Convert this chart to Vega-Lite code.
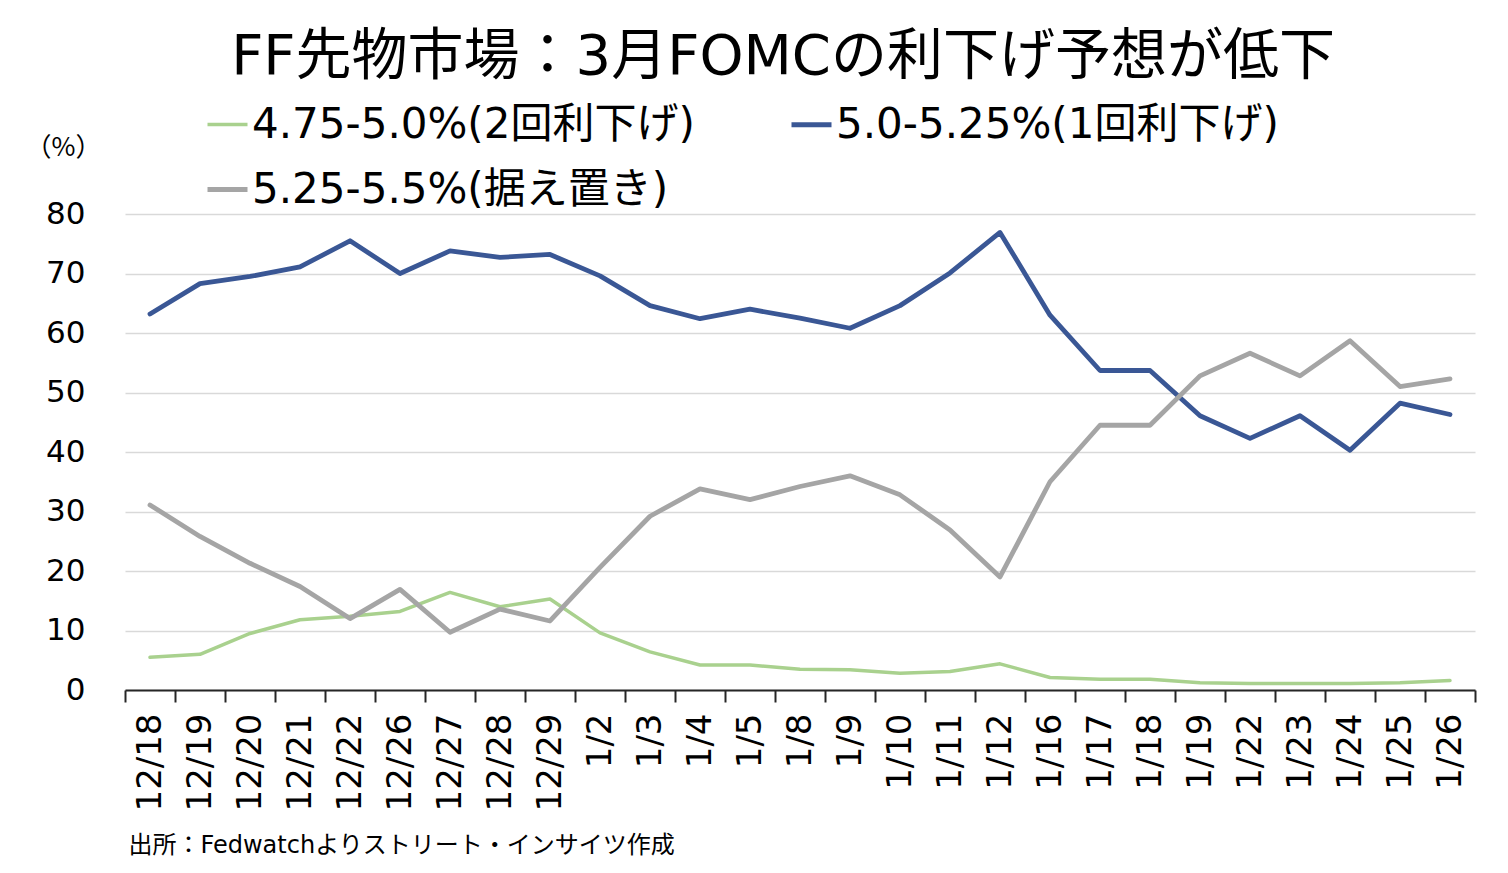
{
  "$schema": "https://vega.github.io/schema/vega-lite/v6.json",
  "autosize": "none",
  "width": 1350,
  "height": 476,
  "padding": {"left": 125, "top": 214, "right": 33, "bottom": 183},
  "background": "white",
  "title": {
    "text": "FF先物市場：3月FOMCの利下げ予想が低下",
    "anchor": "middle",
    "dx": -17,
    "offset": 16,
    "fontSize": 56,
    "font": "DejaVu Sans, Noto Sans CJK JP",
    "fontWeight": "normal",
    "color": "#000000"
  },
  "config": {
    "font": "DejaVu Sans, Noto Sans CJK JP",
    "view": {"stroke": null},
    "legend": {
      "orient": "none",
      "legendX": 80,
      "legendY": -112,
      "direction": "horizontal",
      "columns": 2,
      "columnPadding": 86,
      "rowPadding": 21,
      "labelFontSize": 42,
      "labelColor": "#000000",
      "labelFont": "DejaVu Sans, Noto Sans CJK JP",
      "labelLimit": 0,
      "labelOffset": 2,
      "symbolType": "stroke",
      "symbolSize": 1600,
      "symbolStrokeWidth": 5
    }
  },
  "data": {
    "values": [
      {"d": "12/18", "s": "4.75-5.0%(2回利下げ)", "v": 5.5},
      {"d": "12/19", "s": "4.75-5.0%(2回利下げ)", "v": 6.0},
      {"d": "12/20", "s": "4.75-5.0%(2回利下げ)", "v": 9.5},
      {"d": "12/21", "s": "4.75-5.0%(2回利下げ)", "v": 11.8},
      {"d": "12/22", "s": "4.75-5.0%(2回利下げ)", "v": 12.4},
      {"d": "12/26", "s": "4.75-5.0%(2回利下げ)", "v": 13.2},
      {"d": "12/27", "s": "4.75-5.0%(2回利下げ)", "v": 16.4},
      {"d": "12/28", "s": "4.75-5.0%(2回利下げ)", "v": 14.0},
      {"d": "12/29", "s": "4.75-5.0%(2回利下げ)", "v": 15.3},
      {"d": "1/2", "s": "4.75-5.0%(2回利下げ)", "v": 9.6},
      {"d": "1/3", "s": "4.75-5.0%(2回利下げ)", "v": 6.4},
      {"d": "1/4", "s": "4.75-5.0%(2回利下げ)", "v": 4.2},
      {"d": "1/5", "s": "4.75-5.0%(2回利下げ)", "v": 4.2},
      {"d": "1/8", "s": "4.75-5.0%(2回利下げ)", "v": 3.5},
      {"d": "1/9", "s": "4.75-5.0%(2回利下げ)", "v": 3.4},
      {"d": "1/10", "s": "4.75-5.0%(2回利下げ)", "v": 2.8},
      {"d": "1/11", "s": "4.75-5.0%(2回利下げ)", "v": 3.1},
      {"d": "1/12", "s": "4.75-5.0%(2回利下げ)", "v": 4.4},
      {"d": "1/16", "s": "4.75-5.0%(2回利下げ)", "v": 2.1},
      {"d": "1/17", "s": "4.75-5.0%(2回利下げ)", "v": 1.8},
      {"d": "1/18", "s": "4.75-5.0%(2回利下げ)", "v": 1.8},
      {"d": "1/19", "s": "4.75-5.0%(2回利下げ)", "v": 1.2},
      {"d": "1/22", "s": "4.75-5.0%(2回利下げ)", "v": 1.1},
      {"d": "1/23", "s": "4.75-5.0%(2回利下げ)", "v": 1.1},
      {"d": "1/24", "s": "4.75-5.0%(2回利下げ)", "v": 1.1},
      {"d": "1/25", "s": "4.75-5.0%(2回利下げ)", "v": 1.2},
      {"d": "1/26", "s": "4.75-5.0%(2回利下げ)", "v": 1.6},
      {"d": "12/18", "s": "5.0-5.25%(1回利下げ)", "v": 63.2},
      {"d": "12/19", "s": "5.0-5.25%(1回利下げ)", "v": 68.3},
      {"d": "12/20", "s": "5.0-5.25%(1回利下げ)", "v": 69.5},
      {"d": "12/21", "s": "5.0-5.25%(1回利下げ)", "v": 71.1},
      {"d": "12/22", "s": "5.0-5.25%(1回利下げ)", "v": 75.5},
      {"d": "12/26", "s": "5.0-5.25%(1回利下げ)", "v": 70.0},
      {"d": "12/27", "s": "5.0-5.25%(1回利下げ)", "v": 73.8},
      {"d": "12/28", "s": "5.0-5.25%(1回利下げ)", "v": 72.7},
      {"d": "12/29", "s": "5.0-5.25%(1回利下げ)", "v": 73.2},
      {"d": "1/2", "s": "5.0-5.25%(1回利下げ)", "v": 69.6},
      {"d": "1/3", "s": "5.0-5.25%(1回利下げ)", "v": 64.6},
      {"d": "1/4", "s": "5.0-5.25%(1回利下げ)", "v": 62.4},
      {"d": "1/5", "s": "5.0-5.25%(1回利下げ)", "v": 64.0},
      {"d": "1/8", "s": "5.0-5.25%(1回利下げ)", "v": 62.5},
      {"d": "1/9", "s": "5.0-5.25%(1回利下げ)", "v": 60.8},
      {"d": "1/10", "s": "5.0-5.25%(1回利下げ)", "v": 64.6},
      {"d": "1/11", "s": "5.0-5.25%(1回利下げ)", "v": 70.1},
      {"d": "1/12", "s": "5.0-5.25%(1回利下げ)", "v": 76.9},
      {"d": "1/16", "s": "5.0-5.25%(1回利下げ)", "v": 63.0},
      {"d": "1/17", "s": "5.0-5.25%(1回利下げ)", "v": 53.7},
      {"d": "1/18", "s": "5.0-5.25%(1回利下げ)", "v": 53.7},
      {"d": "1/19", "s": "5.0-5.25%(1回利下げ)", "v": 46.1},
      {"d": "1/22", "s": "5.0-5.25%(1回利下げ)", "v": 42.3},
      {"d": "1/23", "s": "5.0-5.25%(1回利下げ)", "v": 46.1},
      {"d": "1/24", "s": "5.0-5.25%(1回利下げ)", "v": 40.3},
      {"d": "1/25", "s": "5.0-5.25%(1回利下げ)", "v": 48.2},
      {"d": "1/26", "s": "5.0-5.25%(1回利下げ)", "v": 46.3},
      {"d": "12/18", "s": "5.25-5.5%(据え置き)", "v": 31.1},
      {"d": "12/19", "s": "5.25-5.5%(据え置き)", "v": 25.8},
      {"d": "12/20", "s": "5.25-5.5%(据え置き)", "v": 21.3},
      {"d": "12/21", "s": "5.25-5.5%(据え置き)", "v": 17.4},
      {"d": "12/22", "s": "5.25-5.5%(据え置き)", "v": 12.0},
      {"d": "12/26", "s": "5.25-5.5%(据え置き)", "v": 16.9},
      {"d": "12/27", "s": "5.25-5.5%(据え置き)", "v": 9.7},
      {"d": "12/28", "s": "5.25-5.5%(据え置き)", "v": 13.6},
      {"d": "12/29", "s": "5.25-5.5%(据え置き)", "v": 11.6},
      {"d": "1/2", "s": "5.25-5.5%(据え置き)", "v": 20.6},
      {"d": "1/3", "s": "5.25-5.5%(据え置き)", "v": 29.2},
      {"d": "1/4", "s": "5.25-5.5%(据え置き)", "v": 33.8},
      {"d": "1/5", "s": "5.25-5.5%(据え置き)", "v": 32.0},
      {"d": "1/8", "s": "5.25-5.5%(据え置き)", "v": 34.2},
      {"d": "1/9", "s": "5.25-5.5%(据え置き)", "v": 36.0},
      {"d": "1/10", "s": "5.25-5.5%(据え置き)", "v": 32.8},
      {"d": "1/11", "s": "5.25-5.5%(据え置き)", "v": 26.9},
      {"d": "1/12", "s": "5.25-5.5%(据え置き)", "v": 19.0},
      {"d": "1/16", "s": "5.25-5.5%(据え置き)", "v": 35.0},
      {"d": "1/17", "s": "5.25-5.5%(据え置き)", "v": 44.5},
      {"d": "1/18", "s": "5.25-5.5%(据え置き)", "v": 44.5},
      {"d": "1/19", "s": "5.25-5.5%(据え置き)", "v": 52.8},
      {"d": "1/22", "s": "5.25-5.5%(据え置き)", "v": 56.6},
      {"d": "1/23", "s": "5.25-5.5%(据え置き)", "v": 52.8},
      {"d": "1/24", "s": "5.25-5.5%(据え置き)", "v": 58.7},
      {"d": "1/25", "s": "5.25-5.5%(据え置き)", "v": 51.0},
      {"d": "1/26", "s": "5.25-5.5%(据え置き)", "v": 52.3}
    ]
  },
  "mark": {"type": "line", "strokeJoin": "round", "strokeCap": "round"},
  "encoding": {
    "x": {
      "field": "d",
      "type": "ordinal",
      "sort": null,
      "scale": {"type": "band", "paddingInner": 0, "paddingOuter": 0},
      "bandPosition": 0.5,
      "axis": {
        "title": "出所：Fedwatchよりストリート・インサイツ作成",
        "titleFont": "DejaVu Sans, Noto Sans CJK JP",
        "titleFontSize": 24,
        "titleFontWeight": "normal",
        "titleColor": "#000000",
        "titleAnchor": "start",
        "titleAlign": "left",
        "titleBaseline": "alphabetic",
        "titleX": 3,
        "titleY": 162,
        "labelAngle": 270,
        "labelFontSize": 34,
        "labelFont": "DejaVu Sans, Noto Sans CJK JP",
        "labelColor": "#000000",
        "labelPadding": 11,
        "tickBand": "extent",
        "tickSize": 12,
        "tickWidth": 2,
        "tickColor": "#262626",
        "domainColor": "#262626",
        "domainWidth": 2,
        "grid": false
      }
    },
    "y": {
      "field": "v",
      "type": "quantitative",
      "scale": {"domain": [0, 80]},
      "axis": {
        "values": [0, 10, 20, 30, 40, 50, 60, 70, 80],
        "title": "（%）",
        "titleFont": "Noto Sans CJK JP",
        "titleAngle": 0,
        "titleFontSize": 26,
        "titleFontWeight": "normal",
        "titleColor": "#000000",
        "titleAlign": "center",
        "titleBaseline": "middle",
        "titleX": -62,
        "titleY": -67,
        "labelFont": "DejaVu Sans, Noto Sans CJK JP",
        "labelFontSize": 31,
        "labelColor": "#000000",
        "labelPadding": 40,
        "ticks": false,
        "domain": false,
        "grid": true,
        "gridColor": "#D9D9D9",
        "gridWidth": 1.5
      }
    },
    "color": {
      "field": "s",
      "type": "nominal",
      "scale": {
        "domain": ["4.75-5.0%(2回利下げ)", "5.0-5.25%(1回利下げ)", "5.25-5.5%(据え置き)"],
        "range": ["#A9D18E", "#3A5795", "#A5A5A5"]
      },
      "legend": {"title": null}
    },
    "strokeWidth": {
      "field": "s",
      "type": "nominal",
      "scale": {
        "type": "ordinal",
        "domain": ["4.75-5.0%(2回利下げ)", "5.0-5.25%(1回利下げ)", "5.25-5.5%(据え置き)"],
        "range": [3.5, 4.8, 4.8]
      },
      "legend": null
    }
  }
}
